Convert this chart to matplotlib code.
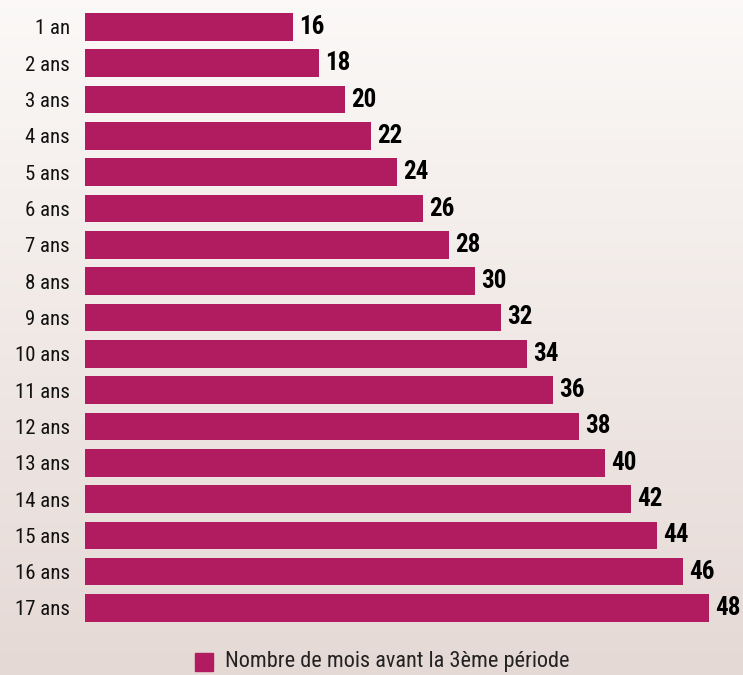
import numpy as np
import matplotlib.pyplot as plt
from matplotlib.patches import Rectangle

# Data
categories = ["1 an"] + [f"{i} ans" for i in range(2, 18)]
months = [16, 18, 20, 22, 24, 26, 28, 30, 32, 34, 36, 38, 40, 42, 44, 46, 48]
legend_label = "Nombre de mois avant la 3ème période"

bar_color = "#b01c5f"
plt.rcParams['font.family'] = ['Roboto Condensed', 'Roboto', 'DejaVu Sans']

fig = plt.figure(figsize=(7.43, 6.75), dpi=100)

# background gradient
bg = fig.add_axes([0, 0, 1, 1], zorder=0)
top = np.array([0.985, 0.975, 0.970])
bottom = np.array([0.898, 0.851, 0.835])
t = np.linspace(0, 1, 256)[:, None, None]
grad = top * (1 - t) + bottom * t
bg.imshow(grad, aspect='auto', extent=[0, 1, 0, 1])
bg.set_axis_off()

ax = fig.add_axes([85 / 743, 0.067, 650 / 743, 0.9253], zorder=1)
ax.patch.set_alpha(0)
y = np.arange(len(categories))
ax.barh(y, months, height=0.76, color=bar_color)
ax.set_ylim(len(categories) - 0.4, -0.6)
ax.set_xlim(0, 50)

for yi, v in zip(y, months):
    ax.text(v + 0.5, yi, str(v), va='center', ha='left', fontsize=18,
            fontweight='bold', color='black')

ax.set_yticks(y)
ax.set_yticklabels(categories, fontsize=15, color='#111111')
ax.tick_params(axis='y', length=0, pad=11)
ax.set_xticks([])
for s in ax.spines.values():
    s.set_visible(False)

# legend
fig.patches.append(Rectangle((195 / 743, 1 - 671 / 675), 18 / 743, 18 / 675,
                             transform=fig.transFigure, color=bar_color, zorder=2))
fig.text(225 / 743, 1 - 662 / 675, legend_label, va='center', ha='left',
         fontsize=16, color='#222222')

plt.savefig('out.png', dpi=100)
